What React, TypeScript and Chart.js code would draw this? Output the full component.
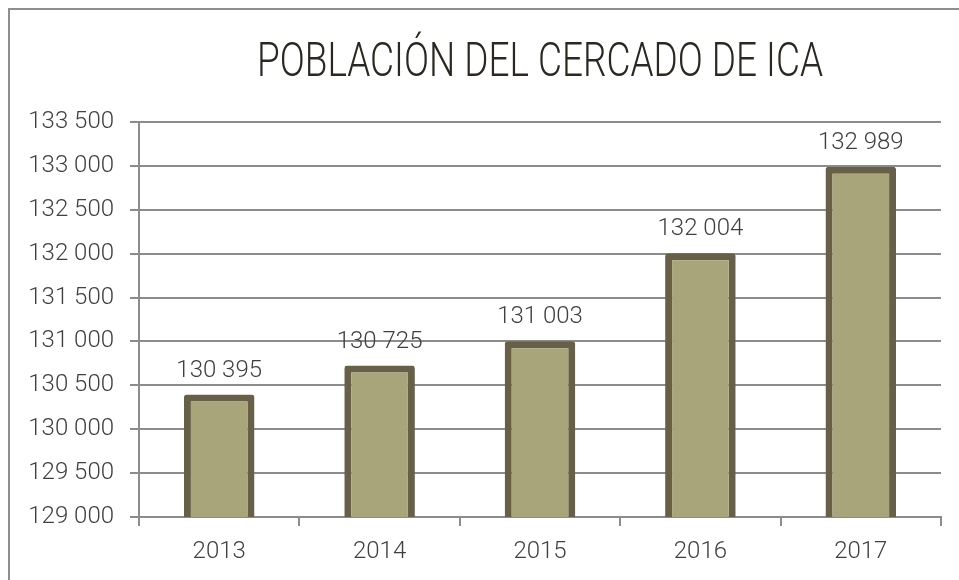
import React, { useEffect, useRef } from "react";
import { Chart, registerables } from "chart.js";

Chart.register(...registerables);

const TITLE = "POBLACIÓN DEL CERCADO DE ICA";
const categories = ["2013", "2014", "2015", "2016", "2017"];
const population = [130395, 130725, 131003, 132004, 132989];
const yMin = 129000;
const yMax = 133500;
const yStep = 500;

const fmt = (v: number) => String(Math.round(v)).replace(/\B(?=(\d{3})+(?!\d))/g, " ");

const FONT = "Roboto, 'Open Sans', sans-serif";

const titlePlugin = {
  id: "customTitle",
  afterDraw(chart: any) {
    const { ctx, chartArea } = chart;
    ctx.save();
    ctx.font = `300 48px ${FONT}`;
    ctx.fillStyle = "#2b2820";
    ctx.textAlign = "center";
    ctx.textBaseline = "alphabetic";
    const cx = (chartArea.left + chartArea.right) / 2;
    const sx = 0.77;
    ctx.translate(cx, 76);
    ctx.scale(sx, 1);
    ctx.fillText(TITLE, 0, 0);
    ctx.restore();
  },
};

const labelPlugin = {
  id: "valueLabels",
  afterDatasetsDraw(chart: any) {
    const { ctx } = chart;
    const meta = chart.getDatasetMeta(0);
    ctx.save();
    ctx.font = `300 24px ${FONT}`;
    ctx.fillStyle = "#404040";
    ctx.textAlign = "center";
    ctx.textBaseline = "alphabetic";
    meta.data.forEach((bar: any, i: number) => {
      ctx.fillText(fmt(population[i]), bar.x, bar.y - 18);
    });
    ctx.restore();
  },
};

export default function App() {
  const ref = useRef<HTMLCanvasElement>(null);
  useEffect(() => {
    if (!ref.current) return;
    const chart = new Chart(ref.current, {
      type: "bar",
      data: {
        labels: categories,
        datasets: [
          {
            data: population,
            backgroundColor: "#a9a57b",
            borderColor: "#675f48",
            borderWidth: 7,
            borderRadius: 3,
            borderSkipped: false,
            barPercentage: 0.44,
            categoryPercentage: 1,
          },
        ],
      },
      options: {
        animation: false,
        responsive: false,
        maintainAspectRatio: false,
        layout: { padding: { top: 122, right: 18, bottom: 0, left: 0 } },
        plugins: {
          legend: { display: false },
          title: { display: false },
          tooltip: { enabled: false },
        },
        scales: {
          x: {
            offset: true,
            grid: {
              offset: true,
              drawOnChartArea: false,
              drawTicks: true,
              tickLength: 9,
              color: "#8c8c8c",
              lineWidth: 2,
            },
            border: { display: true, color: "#8c8c8c", width: 2 },
            ticks: {
              color: "#404040",
              font: { family: FONT, size: 24, weight: "300" as any },
              padding: 12,
            },
            afterFit(scale: any) {
              scale.height = 63;
            },
          },
          y: {
            min: yMin,
            max: yMax,
            grid: {
              color: "#8c8c8c",
              lineWidth: 2,
              tickLength: 9,
            },
            border: { display: true, color: "#8c8c8c", width: 2 },
            ticks: {
              stepSize: yStep,
              color: "#404040",
              font: { family: FONT, size: 24, weight: "300" as any },
              padding: 16,
              callback: (v: any) => fmt(Number(v)),
            },
            afterFit(scale: any) {
              scale.width = 139;
            },
          },
        },
      },
      plugins: [titlePlugin, labelPlugin],
    });
    return () => chart.destroy();
  }, []);

  return (
    <div>
      <div
        style={{
          position: "fixed",
          left: 8,
          top: 8,
          right: 0,
          bottom: 0,
          borderLeft: "2px solid #8e8e8e",
          borderTop: "2px solid #8e8e8e",
        }}
      />
      <canvas
        ref={ref}
        width={959}
        height={580}
        style={{ position: "fixed", left: 0, top: 0, width: 959, height: 580 }}
      />
    </div>
  );
}
